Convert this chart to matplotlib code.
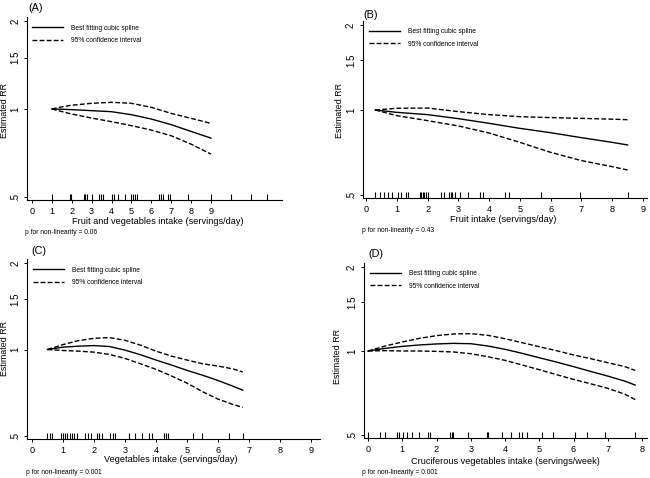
import numpy as np
import matplotlib
matplotlib.use('Agg')
import matplotlib.pyplot as plt

plt.rcParams['font.family'] = ['Liberation Sans', 'DejaVu Sans']

# ---- panel A: fruit and vegetables ----
a_x = [1, 1.5, 2, 3, 4, 5, 6, 7, 8, 9]
a_fit = [1.0, 0.998, 0.995, 0.987, 0.979, 0.956, 0.924, 0.884, 0.838, 0.795]
a_hi = [1.0, 1.017, 1.03, 1.046, 1.054, 1.046, 1.013, 0.966, 0.929, 0.893]
a_lo = [1.0, 0.98, 0.961, 0.931, 0.905, 0.877, 0.847, 0.810, 0.758, 0.701]
a_rug = [1.0, 1.9, 1.95, 2.6, 2.65, 2.75, 3.0, 3.35, 3.45, 3.55, 4.0, 4.1, 4.3,
         4.7, 5.0, 5.1, 5.2, 5.3, 6.4, 6.5, 6.6, 6.85, 6.95, 7.85, 9.0, 10.0, 11.0, 11.8]

# ---- panel B: fruit ----
b_x = [0.3, 1, 2, 3, 4, 5, 6, 7, 8, 8.5]
b_fit = [1.0, 0.981, 0.963, 0.932, 0.897, 0.861, 0.831, 0.798, 0.768, 0.752]
b_hi = [1.0, 1.014, 1.016, 0.987, 0.963, 0.947, 0.940, 0.934, 0.928, 0.924]
b_lo = [1.0, 0.955, 0.917, 0.878, 0.829, 0.768, 0.708, 0.662, 0.630, 0.613]
b_rug = [0.3, 0.45, 0.6, 0.7, 0.85, 1.05, 1.15, 1.3, 1.35, 1.75, 1.8, 1.85, 1.9,
         1.95, 2.0, 2.45, 2.55, 2.7, 2.75, 2.8, 2.9, 3.05, 3.3, 3.7, 3.8, 4.5,
         4.65, 5.7, 6.95, 8.5]

# ---- panel C: vegetables ----
c_x = [0.5, 1, 1.5, 2, 2.5, 3, 3.5, 4, 4.5, 5, 5.5, 6, 6.5, 6.8]
c_fit = [1.0, 1.019, 1.027, 1.032, 1.024, 0.995, 0.959, 0.919, 0.883, 0.846,
         0.814, 0.780, 0.744, 0.722]
c_hi = [1.0, 1.04, 1.074, 1.094, 1.10, 1.077, 1.035, 0.987, 0.948, 0.919,
        0.892, 0.876, 0.855, 0.835]
c_lo = [1.0, 0.992, 0.987, 0.979, 0.961, 0.931, 0.892, 0.853, 0.809, 0.764,
        0.713, 0.672, 0.643, 0.629]
c_rug = [0.5, 0.57, 0.65, 0.92, 0.99, 1.07, 1.14, 1.22, 1.29, 1.36, 1.44, 1.72,
         1.8, 1.9, 2.1, 2.17, 2.26, 2.53, 2.6, 2.69, 3.12, 3.33, 3.55, 3.76,
         3.87, 4.25, 4.32, 4.39, 5.2, 5.5, 6.34, 6.8]

# ---- panel D: cruciferous vegetables ----
d_x = [0, 0.5, 1, 1.5, 2, 2.5, 3, 3.5, 4, 4.5, 5, 5.5, 6, 6.5, 7, 7.5, 7.8]
d_fit = [1.0, 1.022, 1.039, 1.051, 1.06, 1.065, 1.062, 1.042, 1.014, 0.981,
         0.946, 0.913, 0.879, 0.845, 0.813, 0.78, 0.755]
d_hi = [1.0, 1.042, 1.077, 1.11, 1.135, 1.151, 1.154, 1.138, 1.107, 1.071,
        1.036, 1.003, 0.968, 0.939, 0.908, 0.879, 0.852]
d_lo = [1.0, 1.003, 1.0, 1.0, 0.997, 0.992, 0.978, 0.954, 0.926, 0.891,
        0.857, 0.823, 0.791, 0.763, 0.735, 0.70, 0.67]
d_rug = [0.0, 0.34, 0.49, 0.86, 0.9, 1.02, 1.15, 1.29, 1.5, 1.76, 1.8, 2.39,
         2.44, 2.49, 2.93, 3.46, 3.51, 3.9, 4.17, 4.4, 4.5, 4.63, 5.07, 5.41,
         6.05, 6.39, 6.93, 7.8]

y_ticks = [0.5, 1, 1.5, 2]
y_ticklabels = ['.5', '1', '1.5', '2']

W, H = 650, 478
fig = plt.figure(figsize=(W / 100, H / 100), dpi=100)


def px_rect(x0, x_at, xv, p2, p5, xlim, ylim):
    # axes rectangle from pixel anchors of the reference
    sx = (x_at - x0) / xv
    left = x0 + sx * xlim[0]
    right = x0 + sx * xlim[1]
    sy = (p5 - p2) / np.log(4)
    bottom = p5 + sy * np.log(0.5 / ylim[0])
    top = p2 - sy * np.log(ylim[1] / 2)
    return [left / W, 1 - bottom / H, (right - left) / W, (bottom - top) / H]


def ftext(x, y, s, **kw):
    fig.text(x / W, 1 - y / H, s, **kw)


ylim = (0.488, 2.06)

panels = [
    dict(x=a_x, fit=a_fit, hi=a_hi, lo=a_lo, rug=a_rug, xlim=(-0.25, 12.56),
         anchors=(32, 211, 9, 21, 197), xticks=range(10),
         xlabel='Fruit and vegetables intake (servings/day)', xl=(158, 222),
         tag='(A)', tagpos=(28, 8), p='p for non-linearity = 0.06', ppos=(25, 233),
         ylpos=(4.5, 110)),
    dict(x=b_x, fit=b_fit, hi=b_hi, lo=b_lo, rug=b_rug, xlim=(-0.1, 9.13),
         anchors=(366, 643, 9, 25, 195), xticks=range(10),
         xlabel='Fruit intake (servings/day)', xl=(503, 220),
         tag='(B)', tagpos=(363, 15), p='p for non-linearity = 0.43', ppos=(362, 230),
         ylpos=(340, 110)),
    dict(x=c_x, fit=c_fit, hi=c_hi, lo=c_lo, rug=c_rug, xlim=(-0.16, 9.3),
         anchors=(32, 311, 9, 263, 436), xticks=range(10),
         xlabel='Vegetables intake (servings/day)', xl=(171, 459),
         tag='(C)', tagpos=(31, 251), p='p for non-linearity = 0.001', ppos=(26, 472),
         ylpos=(4.5, 349)),
    dict(x=d_x, fit=d_fit, hi=d_hi, lo=d_lo, rug=d_rug, xlim=(-0.12, 8.15),
         anchors=(368, 642, 8, 267, 435), xticks=range(9),
         xlabel='Cruciferous vegetables intake (servings/week)', xl=(505, 462),
         tag='(D)', tagpos=(368, 254), p='p for non-linearity = 0.001', ppos=(362, 472),
         ylpos=(338, 357)),
]

for pn in panels:
    ax = fig.add_axes(px_rect(*pn['anchors'], pn['xlim'], ylim))
    ax.set_yscale('log')
    ax.plot(pn['x'], pn['fit'], color='black', lw=1.0, label='Best fitting cubic spline')
    ax.plot(pn['x'], pn['hi'], color='black', lw=1.0, dashes=(3.5, 1.6),
            label='95% confidence interval')
    ax.plot(pn['x'], pn['lo'], color='black', lw=1.0, dashes=(3.5, 1.6))
    ax.plot(pn['rug'], np.full(len(pn['rug']), 0.5), ls='none', marker='|',
            ms=4.5, mew=0.8, color='black')
    ax.set_xlim(pn['xlim'])
    ax.set_ylim(ylim)
    ax.set_xticks(list(pn['xticks']))
    ax.set_xticklabels([str(t) for t in pn['xticks']], fontsize=6.6)
    ax.set_yticks(y_ticks)
    ax.set_yticklabels(y_ticklabels, fontsize=7, rotation=90, va='center')
    ax.minorticks_off()
    ax.tick_params(length=2.5, width=0.7)
    ax.tick_params(axis='y', pad=2.5)
    ax.tick_params(axis='x', pad=2.5)
    for s in ['top', 'right']:
        ax.spines[s].set_visible(False)
    for s in ['left', 'bottom']:
        ax.spines[s].set_linewidth(0.8)
    ax.legend(loc='upper left', bbox_to_anchor=(0.02, 0.96), frameon=False,
              fontsize=4.8, handlelength=4.65, handletextpad=1.2, labelspacing=0.8,
              borderpad=0, borderaxespad=0)
    ftext(*pn['xl'], pn['xlabel'], fontsize=6.6, ha='center', va='center')
    ftext(*pn['ylpos'], 'Estimated RR', fontsize=6.4, rotation=90, ha='center', va='center')
    ftext(*pn['tagpos'], pn['tag'], fontsize=7.8, ha='left', va='center')
    ftext(*pn['ppos'], pn['p'], fontsize=4.8, ha='left', va='center')

plt.savefig('out.png', dpi=100)
